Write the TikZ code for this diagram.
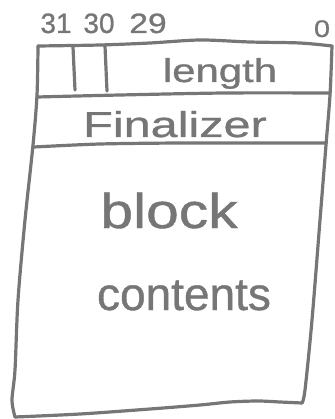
\documentclass[tikz,border=0pt]{standalone}
\usepackage{fontspec}
\setmainfont[FakeBold=0.8]{Liberation Sans}
\definecolor{ink}{HTML}{767676}
\begin{document}
\begin{tikzpicture}[x=1pt,y=-1pt,
  inkline/.style={draw=ink, line width=3.2pt, line cap=round, line join=round},
  lbl/.style={text=ink, inner sep=0pt, anchor=base}]
\useasboundingbox (0,0) rectangle (334,419);
% outer outline
\draw[inkline] plot[smooth, tension=0.5] coordinates {(38,46) (100,45) (150,43) (200,40) (250,42) (300,43) (332,46)};
\draw[inkline] plot[smooth, tension=0.5] coordinates {(332,46) (330,95) (326,145) (320,220) (312,320) (305,390) (302,403)};
\draw[inkline] plot[smooth, tension=0.5] coordinates {(302,403) (280,402) (258,401) (230,402) (200,405) (150,409) (80,414) (15,417)};
\draw[inkline] plot[smooth, tension=0.5] coordinates {(15,417) (12,400) (15,370) (18,300) (25,220) (33,145) (37,95) (38,46)};
% row separators
\draw[inkline] plot[smooth, tension=0.5] coordinates {(37,97) (120,95) (225,93) (330,93)};
\draw[inkline] plot[smooth, tension=0.5] coordinates {(34,147) (100,144) (180,143) (260,143) (326,143)};
% bit dividers
\draw[inkline] (73,47) -- (75,90);
\draw[inkline] (105,46) -- (107,91);
% labels
\node[lbl] (b31) at (56,33) {\fontsize{28}{28}\selectfont 31};
\node[lbl] (b30) at (99,33) {\fontsize{28}{28}\selectfont 30};
\node[lbl, xscale=1.2] (b29) at (148,33) {\fontsize{28}{28}\selectfont 29};
\node[lbl, xscale=1.2] (b0) at (322,37) {\fontsize{24}{24}\selectfont 0};
\node[lbl, xscale=1.27] (len) at (220,82) {\fontsize{33}{33}\selectfont length};
\node[lbl, xscale=1.35] (fin) at (175,137) {\fontsize{36}{36}\selectfont Finalizer};
\node[lbl, xscale=1.2] (blk) at (169,228) {\fontsize{49}{49}\selectfont block};
\node[lbl] (cnt) at (184,310) {\fontsize{46}{46}\selectfont contents};
\end{tikzpicture}
\end{document}
